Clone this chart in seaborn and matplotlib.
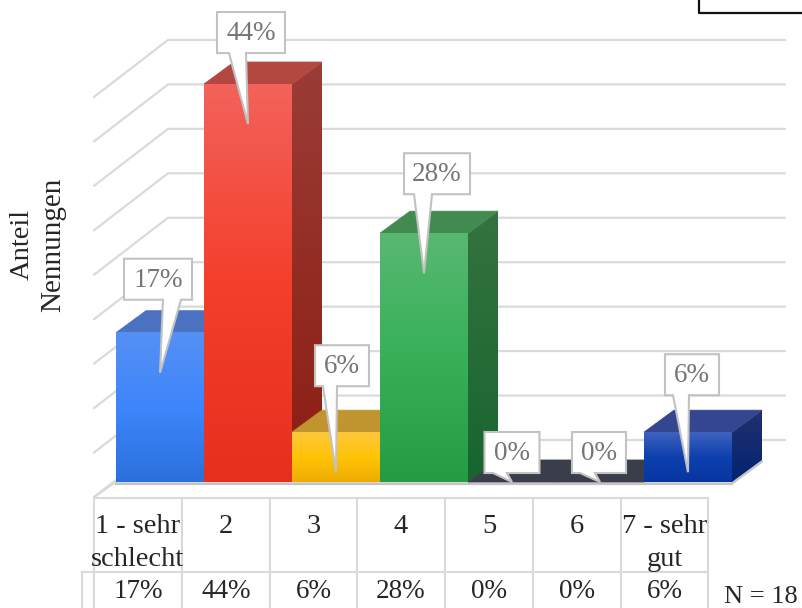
"""Share of answers per rating as a pseudo 3D bar chart with data table."""
import matplotlib
matplotlib.use('Agg')
import matplotlib.pyplot as plt
from matplotlib.colors import LinearSegmentedColormap
from matplotlib.patches import Polygon
import numpy as np
import seaborn as sns

categories = ['1 - sehr\nschlecht', '2', '3', '4', '5', '6', '7 - sehr\ngut']
shares = [16.67, 44.44, 5.56, 27.78, 0, 0, 5.56]
share_labels = ['17%', '44%', '6%', '28%', '0%', '0%', '6%']
ylabel_lines = ['Anteil', 'Nennungen']
note = 'N = 18'
grid_values = [0, 5, 10, 15, 20, 25, 30, 35, 40, 45]

# front, side and top colours per bar (top to bottom of the gradient)
front_colors = [['#5590f5', '#3d86fb', '#2b70dc'],
                ['#f2625a', '#f43f2c', '#e72f1e'],
                ['#fec63c', '#ffc406', '#eeac02'],
                ['#58b872', '#37b058', '#249c44'],
                ['#3a3d4a', '#3a3d4a', '#3a3d4a'],
                ['#3a3d4a', '#3a3d4a', '#3a3d4a'],
                ['#3f62be', '#0d40ae', '#0636a2']]
side_colors = [['#2f5aa8', '#1c4a96'], ['#9a3d36', '#8c1d12'],
               ['#b08a20', '#a07a10'], ['#34733f', '#186530'],
               ['#2a2c36', '#2a2c36'], ['#2a2c36', '#2a2c36'],
               ['#22306f', '#012470']]
top_colors = ['#4a72c0', '#b2483f', '#c09530', '#418a50',
              '#3a3d4a', '#3a3d4a', '#34468f']

# callout layout in pixels: centre shift, box width, gap above the bar, tail base
box_shift = [-2, 3, 6, 13, 0, -1, 4]
box_width = [68, 68, 54, 66, 55, 54, 54]
box_gap = [33, 31, 46, 39, 9, 9, 37]
tail_left = [3, -19, -13, -10, -19, -20, -15]
tail_right = [21, -2, 1, 8, -5, -5, 1]

PX_X = 88.0    # pixels per category
PX_Y = 8.955   # pixels per percent
BACK_Y = 8.89  # pixels per percent on the back wall
DEPTH_X = 30 / PX_X
DEPTH_Y = 22 / PX_Y
TEXT_SIZE = 19.5


def to_x(px):
    return (px - 160) / PX_X


def to_y(py):
    return (482 - py) / PX_Y


def gradient(ax, colors, extent, zorder, clip=None):
    cmap = LinearSegmentedColormap.from_list('grad', colors)
    image = ax.imshow(np.linspace(0, 1, 128)[:, None], cmap=cmap, extent=extent,
                      aspect='auto', zorder=zorder, interpolation='bilinear')
    if clip is not None:
        image.set_clip_path(clip)


sns.set_style('white')
plt.rcParams['font.family'] = ['Liberation Serif', 'DejaVu Serif']

fig = plt.figure(figsize=(8.02, 6.08), dpi=100)
ax = fig.add_axes([0, 0, 1, 1])
sns.barplot(x=categories, y=shares, hue=categories, palette=top_colors,
            width=1, legend=False, edgecolor='none', linewidth=0, ax=ax)

grid_color = '#dadada'
for value in grid_values:
    back = to_y(440) + value * BACK_Y / PX_Y
    front = to_y(497) + value * BACK_Y / PX_Y
    ax.plot([to_x(94), to_x(168), to_x(785)], [front, back, back],
            color=grid_color, lw=1.6, zorder=1, solid_capstyle='round')

# faces of every bar, left to right so that later bars cover earlier ones
for i, (bar, value) in enumerate(zip(ax.patches, shares)):
    z = 3 + i
    x0, x1 = bar.get_x(), bar.get_x() + bar.get_width()
    bar.set_zorder(z + 0.1)
    if value > 0:
        side = Polygon([(x1, 0), (x1 + DEPTH_X, DEPTH_Y),
                        (x1 + DEPTH_X, value + DEPTH_Y), (x1, value)],
                       closed=True, facecolor='none', edgecolor='none', zorder=z)
        ax.add_patch(side)
        gradient(ax, side_colors[i], (x1, x1 + DEPTH_X, 0, value + DEPTH_Y), z, side)
    top = Polygon([(x0, value), (x1, value), (x1 + DEPTH_X, value + DEPTH_Y),
                   (x0 + DEPTH_X, value + DEPTH_Y)],
                  closed=True, facecolor=top_colors[i], edgecolor=top_colors[i],
                  lw=0.6, zorder=z + 0.1)
    ax.add_patch(top)
    if value > 0:
        gradient(ax, front_colors[i], (x0, x1, 0, value), z + 0.2)

# floor edge below the bars
ax.plot([-0.5, 6.5, 6.5 + DEPTH_X], [to_y(483.5), to_y(483.5), to_y(461.5)],
        color='#c4c4c4', lw=1.6, zorder=2.5)
ax.plot([-0.5, 6.5], [to_y(483.5), to_y(483.5)], color='#c4c4c4', lw=1.6, zorder=12)

# callouts with a tail pointing into the bar
for i, (value, label) in enumerate(zip(shares, share_labels)):
    tip_y = value - 40 / PX_Y if value > 0 else 0
    centre = i + box_shift[i] / PX_X
    half = box_width[i] / 2 / PX_X
    bottom = value + box_gap[i] / PX_Y
    top = bottom + 41 / PX_Y
    left = centre - half
    shape = [(left, bottom), (i + tail_left[i] / PX_X, bottom), (i, tip_y),
             (i + tail_right[i] / PX_X, bottom),
             (centre + half, bottom), (centre + half, top), (left, top)]
    ax.add_patch(Polygon(shape, closed=True, facecolor='white', edgecolor='#c2c2c2',
                         lw=1.5, joinstyle='miter', zorder=20))
    ax.text(centre, (bottom + top) / 2 - 1 / PX_Y, label, ha='center', va='center',
            fontsize=TEXT_SIZE, color='#757575', zorder=21)

# data table below the chart
table_color = '#d9d9d9'
column_edges = [94, 182, 270, 357, 445, 533, 621, 708]
for edge in column_edges:
    ax.plot([to_x(edge)] * 2, [to_y(498), to_y(608)], color=table_color, lw=1.5, zorder=2)
ax.plot([to_x(82)] * 2, [to_y(572), to_y(608)], color=table_color, lw=1.5, zorder=2)
ax.plot([to_x(94), to_x(708)], [to_y(498)] * 2, color=table_color, lw=1.5, zorder=2)
ax.plot([to_x(82), to_x(708)], [to_y(572)] * 2, color=table_color, lw=1.5, zorder=2)
ax.plot([to_x(94), to_x(116)], [to_y(497), to_y(482)], color=table_color, lw=1.5, zorder=2)

text_color = '#262626'
for i, (name, label) in enumerate(zip(categories, share_labels)):
    x = to_x((column_edges[i] + column_edges[i + 1]) / 2)
    ax.text(x, to_y(514), name, ha='center', va='top', fontsize=20.5,
            color=text_color, linespacing=1.4, zorder=21)
    ax.text(x, to_y(592), label, ha='center', va='center', fontsize=TEXT_SIZE,
            color=text_color, zorder=21)

ax.text(to_x(761), to_y(597), note, ha='center', va='center', fontsize=19,
        color=text_color, zorder=21)
ax.text(to_x(22), to_y(244), ylabel_lines[0], rotation=90, ha='center', va='center',
        fontsize=20.5, color=text_color)
ax.text(to_x(53), to_y(245), ylabel_lines[1], rotation=90, ha='center', va='center',
        fontsize=21, color=text_color)

# frame corner at the top right
ax.plot([to_x(699), to_x(699), to_x(802)], [to_y(0), to_y(13), to_y(13)],
        color='#111111', lw=1.6, zorder=21)

ax.set_xlim(to_x(0), to_x(802))
ax.set_ylim(to_y(608), to_y(0))
ax.axis('off')

fig.savefig('out.png', dpi=100)
